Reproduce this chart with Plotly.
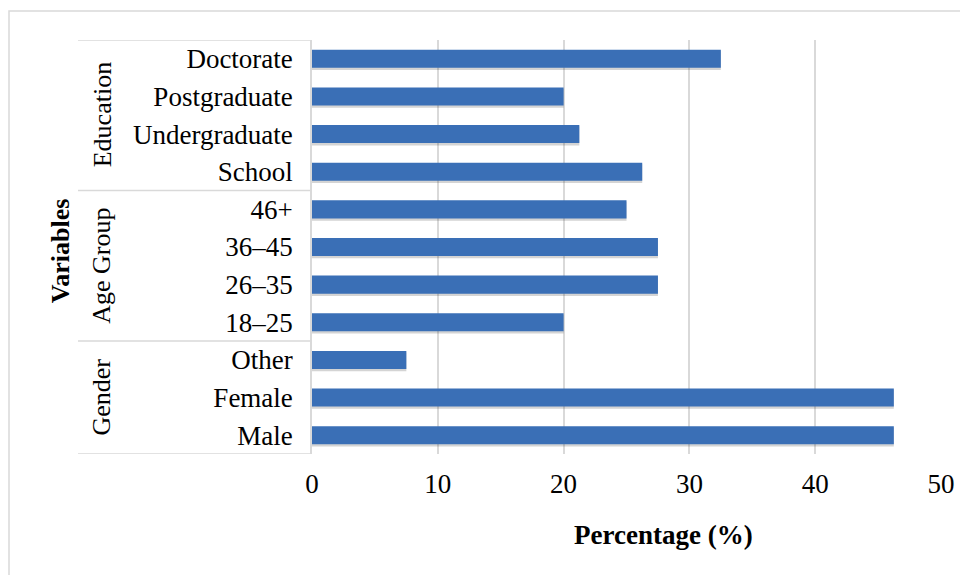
import plotly.graph_objects as go

# Survey composition (n = 80), listed bottom to top
groups = ["Gender", "Gender", "Gender",
          "Age Group", "Age Group", "Age Group", "Age Group",
          "Education", "Education", "Education", "Education"]
categories = ["Male", "Female", "Other",
              "18–25", "26–35", "36–45", "46+",
              "School", "Undergraduate", "Postgraduate", "Doctorate"]
percentages = [46.25, 46.25, 7.5,
               20.0, 27.5, 27.5, 25.0,
               26.25, 21.25, 20.0, 32.5]
x_ticks = [0, 10, 20, 30, 40, 50]

FONT = "Liberation Serif, Times New Roman, serif"
GRID = "#d9d9d9"
BAR = "#3a6fb6"

PLOT_L, PLOT_R = 312, 941
plot_w = PLOT_R - PLOT_L


def px_to_paper(px):
    return (px - PLOT_L) / plot_w


fig = go.Figure()

# soft drop shadow under each bar
fig.add_trace(go.Bar(
    y=categories, x=percentages, orientation="h",
    width=0.5, offset=-0.3,
    marker=dict(color="rgba(60,60,60,0.22)", line=dict(width=0)),
    hoverinfo="skip", showlegend=False,
))
# main bars
fig.add_trace(go.Bar(
    y=categories, x=percentages, orientation="h",
    width=0.48, offset=-0.24,
    marker=dict(color=BAR, line=dict(width=0)),
    showlegend=False,
))

# group boundaries and labels for the two-level category axis
n = len(categories)
group_names = []
for g in groups:
    if g not in group_names:
        group_names.append(g)

bounds = [-0.5]
for i in range(1, n):
    if groups[i] != groups[i - 1]:
        bounds.append(i - 0.5)
bounds.append(n - 0.5)

shapes = []
for b in bounds:
    shapes.append(dict(type="line", xref="paper", yref="y",
                       x0=px_to_paper(78), x1=px_to_paper(310), y0=b, y1=b,
                       line=dict(color=GRID, width=1.5), layer="below"))

# outer chart border
shapes.append(dict(type="rect", xref="paper", yref="paper",
                   x0=px_to_paper(9), x1=1.05, y0=-0.35, y1=1.070,
                   line=dict(color=GRID, width=1.5), layer="below"))

annotations = []
for g in group_names:
    idx = [i for i, gg in enumerate(groups) if gg == g]
    centre = sum(idx) / len(idx)
    annotations.append(dict(text=g, xref="paper", yref="y",
                            x=px_to_paper(102), y=centre, textangle=-90,
                            showarrow=False, xanchor="center", yanchor="middle",
                            font=dict(family=FONT, size=26, color="black")))

annotations.append(dict(text="<b>Variables</b>", xref="paper", yref="paper",
                        x=px_to_paper(60), y=0.49, textangle=-90, showarrow=False,
                        xanchor="center", yanchor="middle",
                        font=dict(family=FONT, size=26, color="black")))
annotations.append(dict(text="<b>Percentage (%)</b>", xref="paper", yref="paper",
                        x=px_to_paper(663.5), y=-0.196, showarrow=False,
                        xanchor="center", yanchor="middle",
                        font=dict(family=FONT, size=27, color="black")))

fig.update_layout(
    width=960, height=575,
    margin=dict(l=PLOT_L, r=960 - PLOT_R, t=40, b=121, autoexpand=False),
    paper_bgcolor="white", plot_bgcolor="white",
    barmode="overlay",
    shapes=shapes, annotations=annotations,
    font=dict(family=FONT, color="black"),
    xaxis=dict(range=[0, 50], tickvals=x_ticks, showgrid=True,
               gridcolor=GRID, gridwidth=1.5, zeroline=False, showline=False,
               ticks="", ticklabelstandoff=11, automargin=False,
               ticklabeloverflow="allow",
               tickfont=dict(family=FONT, size=27, color="black")),
    yaxis=dict(type="category", categoryorder="array", categoryarray=categories,
               range=[-0.5, n - 0.5], showgrid=False, zeroline=False,
               showline=True, linecolor=GRID, linewidth=1.5,
               ticks="", ticklabelstandoff=12, automargin=False,
               tickfont=dict(family=FONT, size=27, color="black")),
)

fig.write_html("out.html")
